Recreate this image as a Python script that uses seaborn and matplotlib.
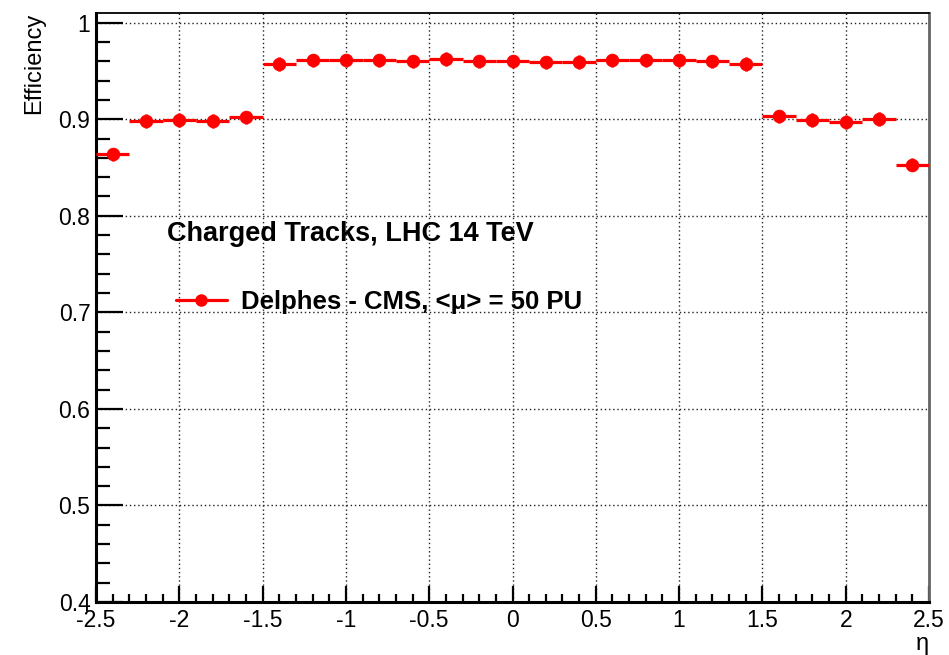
import numpy as np
import pandas as pd
import matplotlib
matplotlib.use("Agg")
import matplotlib.pyplot as plt
from matplotlib.lines import Line2D
from matplotlib.ticker import MultipleLocator, FuncFormatter
import seaborn as sns

# Track-finding efficiency per eta bin (bin width 0.2)
eta_centers = [-2.4, -2.2, -2.0, -1.8, -1.6, -1.4, -1.2, -1.0, -0.8, -0.6,
               -0.4, -0.2, 0.0, 0.2, 0.4, 0.6, 0.8, 1.0, 1.2, 1.4,
               1.6, 1.8, 2.0, 2.2, 2.4]
efficiency = [0.8635, 0.898, 0.899, 0.898, 0.902, 0.957, 0.961, 0.961, 0.961, 0.960,
              0.9625, 0.960, 0.960, 0.9588, 0.959, 0.961, 0.961, 0.961, 0.960, 0.957,
              0.903, 0.899, 0.897, 0.900, 0.853]
eta_halfwidth = [0.1] * len(eta_centers)
eff_error = [0.007] * len(eta_centers)

title_text = "Charged Tracks, LHC 14 TeV"
series_label = "Delphes - CMS, <μ> = 50 PU"

df = pd.DataFrame({"eta": eta_centers, "eff": efficiency})

sns.set_style("white")
plt.rcParams["font.family"] = ["Liberation Sans", "DejaVu Sans"]
plt.rcParams["axes.unicode_minus"] = False
for key in ["text.color", "axes.labelcolor", "xtick.color", "ytick.color"]:
    plt.rcParams[key] = "black"

fig = plt.figure(figsize=(9.49, 6.55), dpi=100)
ax = fig.add_axes([96 / 949, 53 / 655, 833 / 949, 589 / 655])

red = "#ff0000"
ax.errorbar(df["eta"], df["eff"], xerr=eta_halfwidth, yerr=eff_error,
            fmt="none", ecolor=red, elinewidth=2.3, capsize=0, zorder=3)
sns.scatterplot(data=df, x="eta", y="eff", ax=ax, color=red, s=85,
                edgecolor=red, linewidth=0.5, zorder=4, legend=False)

ax.set_xlim(-2.5, 2.5)
ax.set_ylim(0.4, 1.01)

ax.xaxis.set_major_locator(MultipleLocator(0.5))
ax.xaxis.set_minor_locator(MultipleLocator(0.1))
ax.yaxis.set_major_locator(MultipleLocator(0.1))
ax.yaxis.set_minor_locator(MultipleLocator(0.02))
fmt = FuncFormatter(lambda v, p: "%g" % round(v, 3))
ax.xaxis.set_major_formatter(fmt)
ax.yaxis.set_major_formatter(fmt)

ax.tick_params(axis="x", which="major", direction="in", length=11.5, width=1.6,
               labelsize=16.5, pad=5, bottom=True, top=False)
ax.tick_params(axis="x", which="minor", direction="in", length=5.8, width=1.6,
               bottom=True, top=False)
ax.tick_params(axis="y", which="major", direction="in", length=19.5, width=1.6,
               labelsize=16.5, pad=4, left=True, right=False)
ax.tick_params(axis="y", which="minor", direction="in", length=10, width=1.6,
               left=True, right=False)

ax.grid(True, which="major", linestyle=(0, (1, 2)), color="#222222", linewidth=1.0)
ax.set_axisbelow(True)

for side in ["left", "bottom"]:
    ax.spines[side].set_linewidth(2.2)
    ax.spines[side].set_color("black")
ax.spines["top"].set_linewidth(1.3)
ax.spines["top"].set_color("black")
ax.spines["right"].set_linewidth(2.0)
ax.spines["right"].set_color("#666666")

ax.set_xlabel("η", fontsize=17, loc="right", labelpad=1)
ax.set_ylabel("Efficiency", fontsize=17, loc="top", labelpad=10)

ax.text(0.0855, 0.625, title_text, transform=ax.transAxes, fontsize=19.5,
        fontweight="bold", ha="left", va="center")

handle = Line2D([0], [0], color=red, lw=2.3, marker="o", markersize=8,
                markerfacecolor=red, markeredgecolor=red)
ax.legend([handle], [series_label], loc="center left",
          bbox_to_anchor=(0.068, 0.51), frameon=False, handlelength=2.0,
          handletextpad=0.55, prop={"size": 18.5, "weight": "bold"})

fig.savefig("out.png", dpi=100, facecolor="white")
